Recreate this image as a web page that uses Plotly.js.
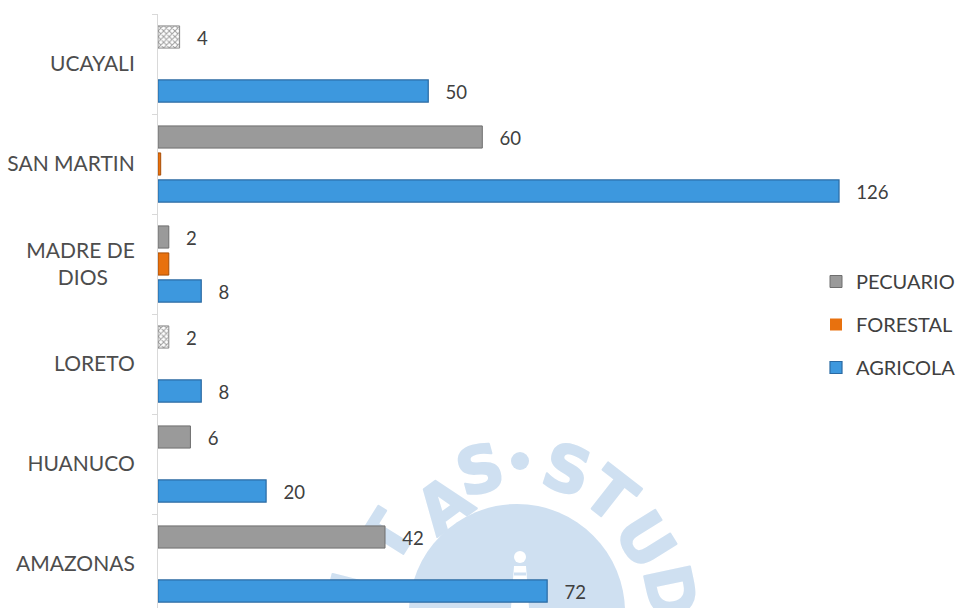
<!DOCTYPE html>
<html>
<head>
<meta charset="utf-8">
<script src="https://cdn.plot.ly/plotly-3.0.1.min.js"></script>
<style>html,body{margin:0;padding:0;background:#fff;}#chart{width:958px;height:608px;}</style>
</head>
<body>
<div id="chart"></div>
<script>
// ---- data ----
const categories = ['AMAZONAS', 'HUANUCO', 'LORETO', 'MADRE DE DIOS', 'SAN MARTIN', 'UCAYALI'];
const tickLabels = ['AMAZONAS', 'HUANUCO', 'LORETO', 'MADRE DE<br>DIOS\u00a0\u00a0\u00a0\u00a0\u00a0', 'SAN MARTIN', 'UCAYALI'];
const agricola = [72, 20, 8, 8, 126, 50];
const forestal = [0, 0, 0, 2, 0.5, 0];
const pecuario = [42, 6, 2, 2, 60, 4];
const pecuarioTextured = [false, false, true, false, false, true];
const seriesNames = ['AGRICOLA', 'FORESTAL', 'PECUARIO'];

// ---- layout constants ----
const W = 958, H = 608;
const ML = 158, MR = 43, MT = 14, MB = 0;
const PW = W - ML - MR, PH = H - MT - MB;
const FONT = 'Lato, "Open Sans", sans-serif';
const labelFont = {family: FONT, size: 21, color: '#404040'};
const catFont = {family: FONT, size: 21, color: '#4d4d4d'};

const pad = '\u00a0\u00a0\u00a0';
function lbl(arr) { return arr.map(v => pad + v); }

const traces = [
  {
    type: 'bar', orientation: 'h', name: seriesNames[0], legendgroup: 'a', legendrank: 3,
    y: categories, x: agricola, text: lbl(agricola), textposition: 'outside',
    cliponaxis: false, textfont: labelFont,
    marker: {color: '#3d98de', line: {color: '#2a6aa3', width: 1.2}},
    hoverinfo: 'x+name'
  },
  {
    type: 'bar', orientation: 'h', name: seriesNames[1], legendgroup: 'b', legendrank: 2,
    y: categories, x: forestal,
    marker: {color: '#e8710e', line: {color: '#a84e07', width: forestal.map(v => v > 0 ? 1 : 0)}},
    hoverinfo: 'x+name'
  },
  {
    type: 'bar', orientation: 'h', name: seriesNames[2], legendgroup: 'c', legendrank: 1,
    y: categories, x: pecuario, text: lbl(pecuario), textposition: 'outside',
    cliponaxis: false, textfont: labelFont,
    marker: {
      color: pecuarioTextured.map(t => t ? '#9e9e9e' : '#9a9a9a'),
      line: {color: pecuarioTextured.map(t => t ? '#8a8a8a' : '#6e6e6e'), width: 1},
      pattern: {shape: pecuarioTextured.map(t => t ? 'x' : ''), fgcolor: '#f2f2f2', size: 4, solidity: 0.45}
    },
    hoverinfo: 'x+name'
  }
];

// watermark as a background image (decorative)
function letter(ch, x, y, rot) {
  return `<text x="0" y="0" transform="translate(${x},${y}) rotate(${rot})" text-anchor="middle" dominant-baseline="central" font-family="DejaVu Sans, sans-serif" font-weight="bold" font-size="64" fill="#cfe0f1" stroke="#cfe0f1" stroke-width="2" stroke-linejoin="round">${ch}</text>`;
}
const wm = `<svg xmlns="http://www.w3.org/2000/svg" width="${W}" height="${H}" viewBox="0 0 ${W} ${H}">` +
  `<circle cx="517" cy="612" r="108" fill="#cfe0f1"/>` +
  `<circle cx="520" cy="557" r="6" fill="#ffffff"/>` +
  `<path d="M514 566 L526 566 L529 608 L511 608 Z" fill="#ffffff"/>` +
  `<path d="M514 574 L526 574 M513 582 L527 582 M512 590 L528 590 M512 598 L528 598" stroke="#cfe0f1" stroke-width="3"/>` +
  letter('I', 355, 586, -76) +
  letter('T', 388, 537, -58) +
  letter('A', 444, 505, -36) +
  letter('S', 480, 470, -15) +
  `<circle cx="520" cy="461" r="9" fill="#cfe0f1"/>` +
  letter('S', 567, 470, 18) +
  letter('T', 610, 495, 38) +
  letter('U', 645, 540, 58) +
  letter('D', 670, 592, 78) +
  `</svg>`;
const wmSrc = 'data:image/svg+xml;charset=utf-8,' + encodeURIComponent(wm);

const layout = {
  width: W, height: H,
  margin: {l: ML, r: MR, t: MT, b: MB, pad: 0, autoexpand: false},
  paper_bgcolor: '#ffffff', plot_bgcolor: 'rgba(0,0,0,0)',
  barmode: 'group', bargap: 0.19, bargroupgap: 0.18,
  showlegend: true,
  legend: {
    x: (816 - ML) / PW, y: (H - 262 - MB) / PH, xanchor: 'left', yanchor: 'top',
    traceorder: 'grouped', tracegroupgap: 14,
    font: {family: FONT, size: 20, color: '#404040'},
    bgcolor: 'rgba(0,0,0,0)', borderwidth: 0, itemwidth: 30
  },
  xaxis: {
    range: [0, PW / 5.405], showgrid: false, zeroline: false, showline: false,
    showticklabels: false, ticks: '', fixedrange: true
  },
  yaxis: {
    type: 'category', categoryorder: 'array', categoryarray: categories,
    range: [5.5 - PH / 100, 5.5],
    tickvals: categories, ticktext: tickLabels,
    showline: true, linecolor: '#d9d9d9', linewidth: 1,
    ticks: 'outside', tickson: 'boundaries', ticklen: 5, tickcolor: '#d9d9d9',
    ticklabelstandoff: 18, automargin: false,
    showgrid: false, zeroline: false, tickfont: catFont, fixedrange: true
  },
  images: [{
    source: wmSrc, xref: 'paper', yref: 'paper',
    x: -ML / PW, y: (H - MB) / PH, sizex: W / PW, sizey: H / PH,
    xanchor: 'left', yanchor: 'top', sizing: 'stretch', layer: 'below', opacity: 1
  }]
};

Plotly.newPlot('chart', traces, layout, {displayModeBar: false, staticPlot: true});
</script>
</body>
</html>
